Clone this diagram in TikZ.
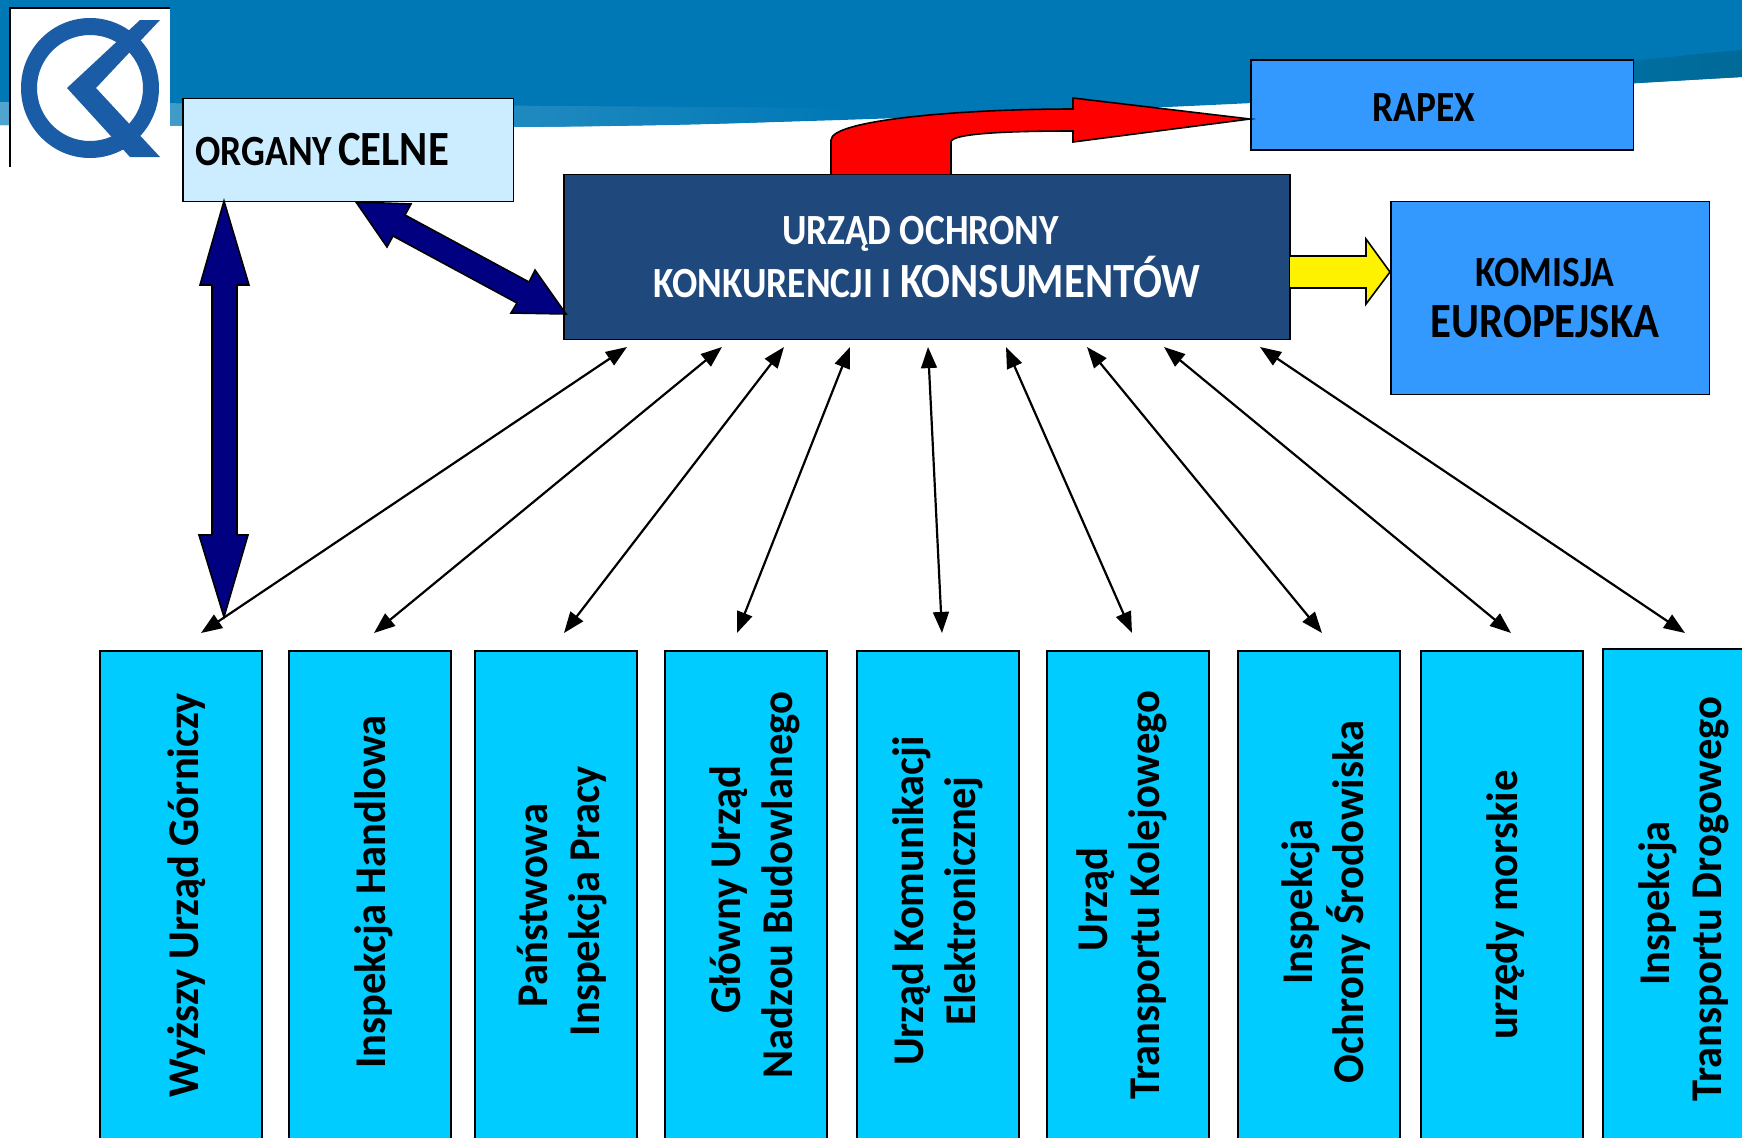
\documentclass[tikz,border=0pt]{standalone}
\usepackage{fontspec}
\setmainfont{Carlito}
\newfontfamily\narrowfont[FakeStretch=0.87]{Carlito}
\newfontfamily\insfont[FakeStretch=0.97]{Carlito}
\usetikzlibrary{arrows.meta}
\definecolor{bandblue}{HTML}{0078B6}
\definecolor{bandlight}{HTML}{4FA5CE}
\definecolor{banddark}{HTML}{006A98}
\definecolor{logoblue}{HTML}{1A5DA6}
\definecolor{celnefill}{HTML}{CCECFF}
\definecolor{urzadfill}{HTML}{1F497D}
\definecolor{euroblue}{HTML}{3399FF}
\definecolor{instfill}{HTML}{00CCFF}
\definecolor{navyfill}{HTML}{000080}
\newcommand{\textA}{\narrowfont\fontsize{24.5}{29}\selectfont\bfseries}
\newcommand{\textB}{\narrowfont\fontsize{28}{29}\selectfont\bfseries}
\tikzset{
  topbox/.style={draw=black,line width=1.1pt,inner sep=0pt,text=black,align=center},
  instbox/.style={draw=black,line width=1.2pt,fill=instfill,rotate=90,
    minimum width=10cm,minimum height=3.24cm,inner sep=0pt},
  instlabel/.style={rotate=90,align=center,inner sep=0pt,text=black,
    font=\insfont\fontsize{25}{29.5}\selectfont\bfseries},
  blockarrow/.style={draw=black,line width=0.9pt,line join=miter},
  linkarrow/.style={{Triangle[length=12pt,width=9pt]}-{Triangle[length=12pt,width=9pt]},line width=1.25pt},
}
\begin{document}
\begin{tikzpicture}[x=0.02cm,y=-0.02cm]
\useasboundingbox (0,0) rectangle (1742,1137);
\clip (0,0) rectangle (1742,1137);
% header band
\fill [bandblue] (0,0) -- (1742,0) -- (1742,77) .. controls (1200,108) and (800,125) .. (513,127) -- (0,125) -- cycle;
\shade [left color=bandlight,right color=bandblue] (0,102) -- (850,108) -- (850,118) .. controls (750,124) and (650,126) .. (513,127) -- (0,125) -- cycle;
\shade [left color=bandblue,right color=banddark] (1350,101) .. controls (1450,85) and (1600,62) .. (1742,50) -- (1742,77) .. controls (1600,85) and (1450,95) .. (1350,101) -- cycle;
% logo
\fill [white] (10,8) rectangle (170,167);
\draw [black,line width=0.8pt] (10,167) -- (10,8) -- (170,8);
\fill [logoblue,even odd rule] (90,88) ellipse [x radius=69,y radius=70] (90,88) ellipse [x radius=53,y radius=53];
\fill [logoblue] (67,88) -- (140,20) -- (160,20) -- (96,88) -- (160,157) -- (130,157) -- cycle;
% boxes
\node [topbox,fill=celnefill,minimum width=6.62cm,minimum height=2.06cm,text width=6.1cm,align=left] (celne) at (348,150) {\raisebox{-1pt}{\textA ORGANY {\textB CELNE}}};
\node [topbox,fill=urzadfill,text=white,minimum width=14.54cm,minimum height=3.3cm] (urzad) at (927,257) {\textA URZĄD OCHRONY\hspace*{0.26cm}\\[2pt] \textA KONKURENCJI I {\textB KONSUMENTÓW}};
\node [topbox,fill=euroblue,minimum width=7.66cm,minimum height=1.8cm] (rapex) at (1442,105) {\rule{0pt}{19pt}\textA RAPEX\hspace{0.72cm}};
\node [topbox,fill=euroblue,minimum width=6.38cm,minimum height=3.86cm] (komisja) at (1550,298) {\textA KOMISJA\hspace*{0.2cm}\\[9pt] \textB EUROPEJSKA\hspace*{0.2cm}};
% institutions
\node [instbox] (wug) at (181,901) {};
\node [instbox] (handel) at (370,901) {};
\node [instbox] (pip) at (556,901) {};
\node [instbox] (gunb) at (746,901) {};
\node [instbox] (uke) at (938,901) {};
\node [instbox] (utk) at (1128,901) {};
\node [instbox] (ios) at (1319,901) {};
\node [instbox] (morskie) at (1502,901) {};
\node [instbox] (itd) at (1684,899) {};
\node [instlabel] (wugtext) at (187,895) {Wyższy Urząd Górniczy};
\node [instlabel] (handeltext) at (374,892) {Inspekcja Handlowa};
\node [instlabel] (piptext) at (562,901) {Państwowa\hspace*{0.18cm}\\Inspekcja Pracy};
\node [instlabel] (gunbtext) at (755,885) {Główny Urząd\hspace*{0.18cm}\\Nadzou Budowlanego};
\node [instlabel] (uketext) at (938,901) {Urząd Komunikacji\\Elektronicznej};
\node [instlabel] (utktext) at (1122,895) {Urząd\hspace*{0.18cm}\\Transportu Kolejowego};
\node [instlabel] (iostext) at (1326,902) {Inspekcja\\Ochrony Środowiska};
\node [instlabel] (morskietext) at (1506,905) {urzędy morskie};
\node [instlabel] (itdtext) at (1684,899) {Inspekcja\hspace*{0.18cm}\\Transportu Drogowego};
% block arrows
\draw [blockarrow,fill=red] (831,174) -- (831,140) .. controls (831,120) and (960,109) .. (1073,109) -- (1073,98) -- (1250,119) -- (1073,142) -- (1073,131) .. controls (1000,131) and (951,134) .. (951,142) -- (951,174);
\draw [blockarrow,fill=yellow] (1290,256) -- (1366,256) -- (1366,239) -- (1390,272) -- (1366,304) -- (1366,288) -- (1290,288);
\draw [blockarrow,fill=navyfill] (224,201) -- (249,285) -- (237,285) -- (237,535) -- (248,535) -- (224,617) -- (199,535) -- (212,535) -- (212,285) -- (200,285) -- cycle;
\draw [blockarrow,fill=navyfill] (356,202) -- (411,204) -- (405,215) -- (529,282) -- (535,270) -- (566,314) -- (511,313) -- (517,303) -- (393,236) -- (387,247) -- cycle;
% links
\foreach \i/\tx/\bx in {1/627/201,2/722/374,3/784/564,4/850/737,5/928/942,6/1006/1132,7/1087/1322,8/1164/1511,9/1260/1685}{
  \coordinate (top\i) at (\tx,347);
  \coordinate (bot\i) at (\bx,633);
  \draw [linkarrow] (bot\i) -- (top\i);
}
\end{tikzpicture}
\end{document}
